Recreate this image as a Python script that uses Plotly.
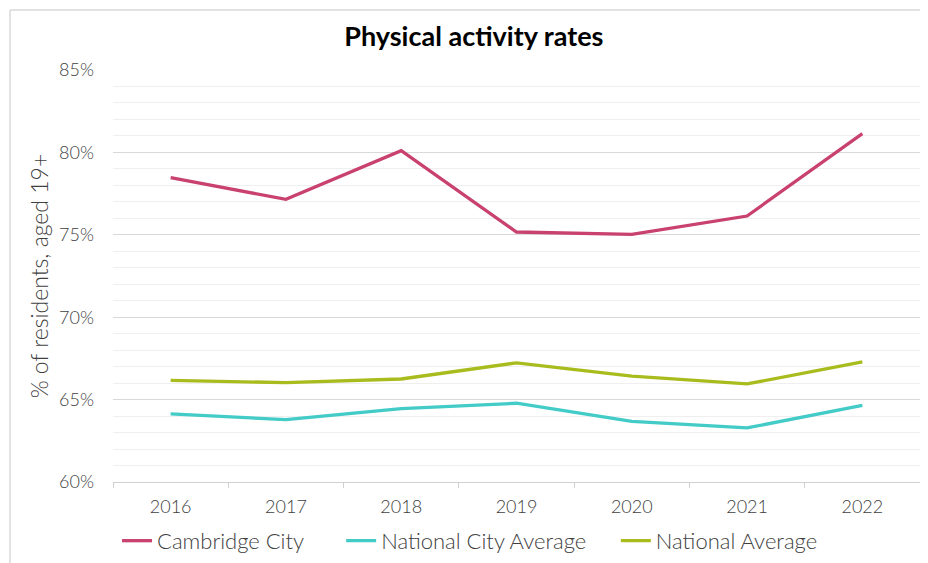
import plotly.graph_objects as go

years = ["2016", "2017", "2018", "2019", "2020", "2021", "2022"]
cambridge_city = [78.47, 77.15, 80.1, 75.17, 75.02, 76.14, 81.14]
national_city_avg = [64.13, 63.78, 64.45, 64.78, 63.68, 63.28, 64.65]
national_avg = [66.17, 66.03, 66.25, 67.23, 66.42, 65.95, 67.29]
y_ticks = [60, 65, 70, 75, 80, 85]
y_tick_labels = ["60%", "65%", "70%", "75%", "80%", "85%"]

FONT = "Lato"
GRAY = "#404040"

fig = go.Figure()
series = [
    ("Cambridge City", cambridge_city, "#C9416F", "legend", 0.1175),
    ("National City Average", national_city_avg, "#42CBC7", "legend2", 0.359),
    ("National Average", national_avg, "#A9BC1E", "legend3", 0.655),
]
legend_font = dict(family=FONT, size=22, color=GRAY, weight=300)
legends = {}
for name, vals, col, lg, lx in series:
    fig.add_trace(go.Scatter(x=years, y=vals, name=name, mode="lines", legend=lg,
                             line=dict(color=col, width=3.3)))
    legends[lg] = dict(orientation="h", x=lx, xref="container", xanchor="left",
                       y=0.0535, yref="container", yanchor="middle",
                       font=legend_font, itemwidth=30, bgcolor="rgba(0,0,0,0)")

# page body has an 8px default margin, so margins are compensated
fig.update_layout(
    width=928, height=563,
    margin=dict(l=105, r=16, t=62, b=89, autoexpand=False),
    paper_bgcolor="white", plot_bgcolor="white",
    font=dict(family=FONT, color=GRAY, weight=300),
    title=dict(text="<b>Physical activity rates</b>", x=0.502, xref="container",
               xanchor="center", y=0.950, yref="container", yanchor="middle",
               font=dict(family=FONT, size=27, color="#000000")),
    showlegend=True,
    **legends,
)
fig.update_xaxes(
    type="category", range=[-0.5, 6.5], tickson="boundaries", ticks="outside", ticklen=5,
    tickcolor="#d0d0d0", showline=True, linecolor="#d0d0d0", linewidth=1,
    showgrid=False, automargin=False, ticklabelstandoff=8,
    tickfont=dict(family=FONT, size=18, color=GRAY, weight=300),
)
fig.update_yaxes(
    range=[60, 85], tickvals=y_ticks, ticktext=y_tick_labels,
    showgrid=True, gridcolor="#d9d9d9", gridwidth=1,
    minor=dict(dtick=1, tick0=60, showgrid=True, gridcolor="#efefef", gridwidth=1),
    zeroline=False, showline=False, ticks="", ticklabelstandoff=18, automargin=False,
    tickfont=dict(family=FONT, size=18, color=GRAY, weight=300),
    title=dict(text="% of residents, aged 19+", standoff=4,
               font=dict(family=FONT, size=23, color=GRAY, weight=300)),
)
# outer frame (top and left edges visible in crop)
fig.add_shape(type="line", xref="paper", yref="paper", x0=-103/807, x1=1.2,
              y0=1 + 60/412, y1=1 + 60/412, line=dict(color="#d9d9d9", width=1.5))
fig.add_shape(type="line", xref="paper", yref="paper", x0=-103/807, x1=-103/807,
              y0=1 + 60/412, y1=-0.3, line=dict(color="#d9d9d9", width=1.5))

fig.write_html("out.html")
